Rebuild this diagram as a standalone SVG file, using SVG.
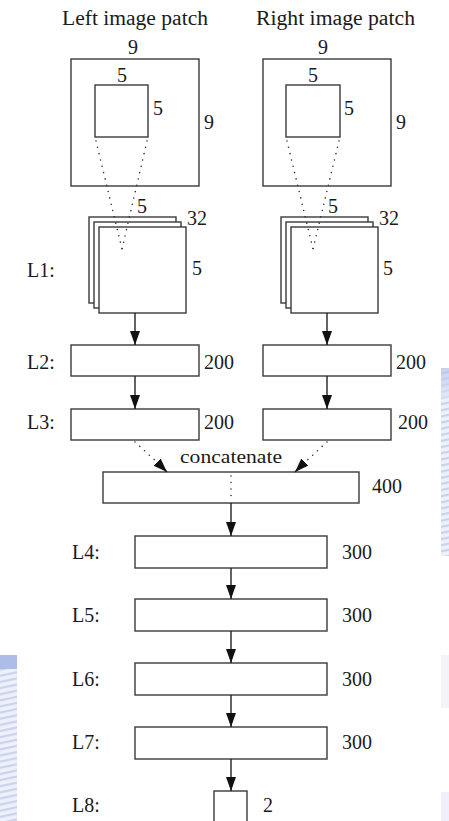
<svg xmlns="http://www.w3.org/2000/svg" width="449" height="821" viewBox="0 0 449 821">
<defs>
<style>
.t{font-family:'Liberation Serif','DejaVu Serif',serif;font-size:20px;fill:#1a1a1a}
.c{font-family:'Liberation Serif','DejaVu Serif',serif;font-size:18px;fill:#1a1a1a}
.box{fill:#fff;stroke:#3a3a3a;stroke-width:1.4}
.ln{fill:none;stroke:#222;stroke-width:1.4}
.dot{fill:none;stroke:#333;stroke-width:1.6;stroke-linecap:round;stroke-dasharray:0 6.5}
</style>
<marker id="ah" markerUnits="userSpaceOnUse" markerWidth="15" markerHeight="11" refX="14" refY="5" orient="auto">
<path d="M0,0 L14,5 L0,10 z" fill="#111"/>
</marker>
<pattern id="stripes" width="8" height="6" patternUnits="userSpaceOnUse" patternTransform="rotate(-12)">
<rect width="8" height="6" fill="#eef1fa"/>
<rect width="8" height="2.2" fill="#c9d3ee"/>
</pattern>
<linearGradient id="fadeR" x1="0" y1="0" x2="0" y2="1">
<stop offset="0" stop-color="#aebde8"/>
<stop offset="1" stop-color="#dde4f5"/>
</linearGradient>
</defs>
<rect width="449" height="821" fill="#fff"/>
<g id="background">
<rect x="441" y="368" width="8" height="188" fill="url(#stripes)"/>
<rect x="441" y="368" width="8" height="30" fill="url(#fadeR)" opacity="0.6"/>
<rect x="0" y="655" width="17" height="166" fill="url(#stripes)"/>
<rect x="0" y="655" width="17" height="14" fill="#aebde8"/>
<rect x="441" y="655" width="8" height="53" fill="#f3f4f9"/>
<rect x="441" y="792" width="8" height="29" fill="#eef1fa"/>
</g>

<g id="left-patch">
<text class="t" x="62" y="25" textLength="146" lengthAdjust="spacingAndGlyphs">Left image patch</text>
<rect class="box" x="71" y="59" width="128" height="127"/>
<rect class="box" x="95" y="85" width="53" height="52"/>
<text class="t" x="133" y="54" text-anchor="middle">9</text>
<text class="t" x="122" y="82" text-anchor="middle">5</text>
<text class="t" x="153" y="115">5</text>
<text class="t" x="204" y="129">9</text>
</g>
<g id="right-patch">
<text class="t" x="256" y="25" textLength="159" lengthAdjust="spacingAndGlyphs">Right image patch</text>
<rect class="box" x="263" y="59" width="128" height="127"/>
<rect class="box" x="286" y="85" width="54" height="52"/>
<text class="t" x="323" y="54" text-anchor="middle">9</text>
<text class="t" x="313" y="82" text-anchor="middle">5</text>
<text class="t" x="344" y="115">5</text>
<text class="t" x="396" y="129">9</text>
</g>

<g id="L1-left">
<text class="t" x="27" y="277">L1:</text>
<rect class="box" x="89" y="217" width="87" height="86"/>
<rect class="box" x="94" y="222" width="87" height="86"/>
<rect class="box" x="99" y="227" width="87" height="86"/>
<text class="t" x="137" y="213">5</text>
<text class="t" x="187" y="225">32</text>
<text class="t" x="192" y="275">5</text>
</g>
<g id="L1-right">
<rect class="box" x="281" y="217" width="87" height="86"/>
<rect class="box" x="286" y="222" width="87" height="86"/>
<rect class="box" x="291" y="227" width="87" height="86"/>
<text class="t" x="328" y="213">5</text>
<text class="t" x="379" y="225">32</text>
<text class="t" x="383" y="275">5</text>
</g>

<g id="L2-left">
<text class="t" x="27" y="369">L2:</text>
<rect class="box" x="71" y="345" width="128" height="31"/>
<text class="t" x="204" y="369">200</text>
</g>
<g id="L2-right">
<rect class="box" x="263" y="345" width="128" height="31"/>
<text class="t" x="396" y="369">200</text>
</g>
<g id="L3-left">
<text class="t" x="27" y="429">L3:</text>
<rect class="box" x="71" y="409" width="128" height="31"/>
<text class="t" x="204" y="429">200</text>
</g>
<g id="L3-right">
<rect class="box" x="263" y="409" width="128" height="31"/>
<text class="t" x="398" y="429">200</text>
</g>

<g id="concat">
<text class="c" x="231" y="463" text-anchor="middle" textLength="102" lengthAdjust="spacingAndGlyphs">concatenate</text>
<rect class="box" x="103" y="472" width="256" height="31"/>
<text class="t" x="372" y="493">400</text>
</g>

<g id="L4">
<text class="t" x="72" y="559">L4:</text>
<rect class="box" x="135" y="536" width="192" height="32"/>
<text class="t" x="342" y="559">300</text>
</g>
<g id="L5">
<text class="t" x="72" y="622">L5:</text>
<rect class="box" x="135" y="599" width="192" height="32"/>
<text class="t" x="342" y="622">300</text>
</g>
<g id="L6">
<text class="t" x="72" y="686">L6:</text>
<rect class="box" x="135" y="663" width="192" height="32"/>
<text class="t" x="342" y="686">300</text>
</g>
<g id="L7">
<text class="t" x="72" y="749">L7:</text>
<rect class="box" x="135" y="727" width="192" height="32"/>
<text class="t" x="342" y="749">300</text>
</g>
<g id="L8">
<text class="t" x="72" y="812">L8:</text>
<rect class="box" x="214" y="791" width="33" height="34"/>
<text class="t" x="263" y="812">2</text>
</g>

<g id="connectors">
<path class="dot" d="M96,141 L122,249"/>
<path class="dot" d="M147,141 L122,249"/>
<path class="dot" d="M287,141 L313,249"/>
<path class="dot" d="M339,141 L313,249"/>
<path class="ln" d="M135,313 L135,345" marker-end="url(#ah)"/>
<path class="ln" d="M327,313 L327,345" marker-end="url(#ah)"/>
<path class="ln" d="M135,376 L135,409" marker-end="url(#ah)"/>
<path class="ln" d="M327,376 L327,409" marker-end="url(#ah)"/>
<path class="dot" d="M135,442 L160,465"/>
<path class="ln" d="M160,465 L167,472" marker-end="url(#ah)" stroke-width="0.1"/>
<path class="dot" d="M327,442 L302,465"/>
<path class="ln" d="M302,465 L295,472" marker-end="url(#ah)" stroke-width="0.1"/>
<path class="dot" d="M231,476 L231,502"/>
<path class="ln" d="M231,503 L231,536" marker-end="url(#ah)"/>
<path class="ln" d="M231,568 L231,599" marker-end="url(#ah)"/>
<path class="ln" d="M231,631 L231,663" marker-end="url(#ah)"/>
<path class="ln" d="M231,695 L231,727" marker-end="url(#ah)"/>
<path class="ln" d="M231,759 L231,791" marker-end="url(#ah)"/>
</g>
</svg>
